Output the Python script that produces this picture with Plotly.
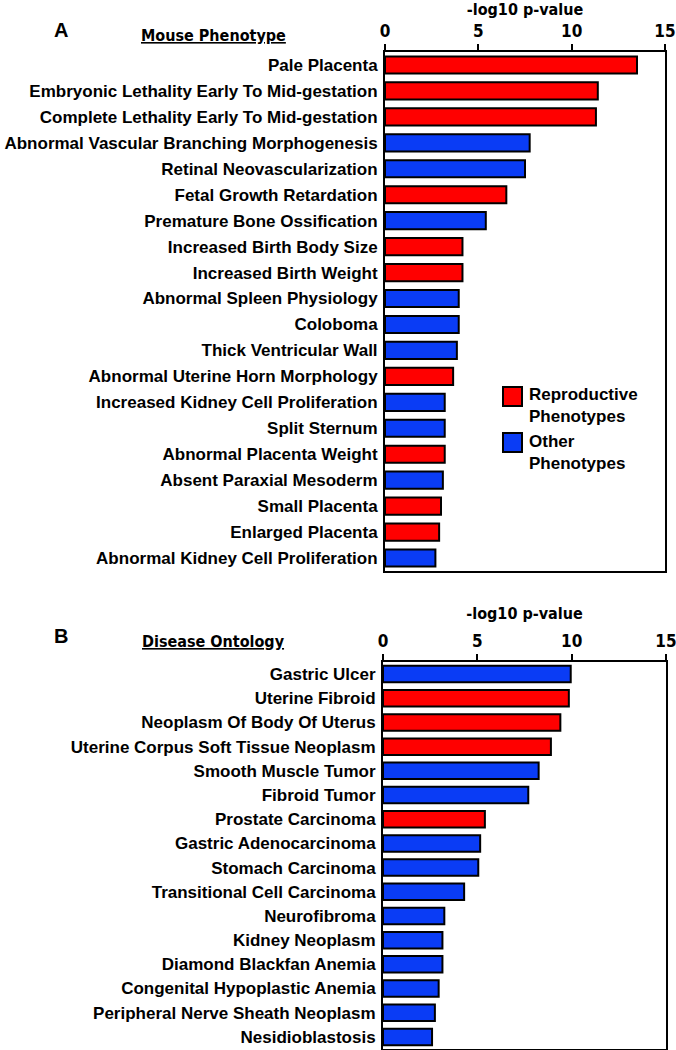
import plotly.graph_objects as go

# ---------------- data ----------------
mouse_terms = [
    "Pale Placenta",
    "Embryonic Lethality Early To Mid-gestation",
    "Complete Lethality Early To Mid-gestation",
    "Abnormal Vascular Branching Morphogenesis",
    "Retinal Neovascularization",
    "Fetal Growth Retardation",
    "Premature Bone Ossification",
    "Increased Birth Body Size",
    "Increased Birth Weight",
    "Abnormal Spleen Physiology",
    "Coloboma",
    "Thick Ventricular Wall",
    "Abnormal Uterine Horn Morphology",
    "Increased Kidney Cell Proliferation",
    "Split Sternum",
    "Abnormal Placenta Weight",
    "Absent Paraxial Mesoderm",
    "Small Placenta",
    "Enlarged Placenta",
    "Abnormal Kidney Cell Proliferation",
]
mouse_values = [13.5, 11.4, 11.3, 7.75, 7.5, 6.5, 5.4, 4.15, 4.15, 3.95,
                3.95, 3.85, 3.65, 3.2, 3.2, 3.2, 3.1, 3.0, 2.9, 2.7]
mouse_groups = ["R", "R", "R", "O", "O", "R", "O", "R", "R", "O",
                "O", "O", "R", "O", "O", "R", "O", "R", "R", "O"]

disease_terms = [
    "Gastric Ulcer",
    "Uterine Fibroid",
    "Neoplasm Of Body Of Uterus",
    "Uterine Corpus Soft Tissue Neoplasm",
    "Smooth Muscle Tumor",
    "Fibroid Tumor",
    "Prostate Carcinoma",
    "Gastric Adenocarcinoma",
    "Stomach Carcinoma",
    "Transitional Cell Carcinoma",
    "Neurofibroma",
    "Kidney Neoplasm",
    "Diamond Blackfan Anemia",
    "Congenital Hypoplastic Anemia",
    "Peripheral Nerve Sheath Neoplasm",
    "Nesidioblastosis",
]
disease_values = [9.95, 9.85, 9.4, 8.9, 8.25, 7.7, 5.4, 5.15, 5.05, 4.3,
                  3.25, 3.15, 3.15, 2.95, 2.75, 2.6]
disease_groups = ["O", "R", "R", "R", "O", "O", "R", "O", "O", "O",
                  "O", "O", "O", "O", "O", "O"]

x_ticks = [0, 5, 10, 15]
legend_labels = {"R": "Reproductive<br>Phenotypes", "O": "Other<br>Phenotypes"}

# ---------------- style ----------------
RED = "#FF0000"
BLUE = "#0A3CF5"
colors = {"R": RED, "O": BLUE}
W, H = 676, 1050
ARIAL = "Liberation Sans, Arial, sans-serif"
NARROW = "DejaVu Sans Condensed, Arial Narrow, sans-serif"


def px_x(p):
    return p / W


def px_y(p):
    return 1 - p / H


fig = go.Figure()
fig.add_trace(go.Bar(
    x=mouse_values, y=mouse_terms, orientation="h",
    marker=dict(color=[colors[g] for g in mouse_groups],
                line=dict(color="black", width=2)),
    width=0.66, xaxis="x", yaxis="y", showlegend=False,
))
fig.add_trace(go.Bar(
    x=disease_values, y=disease_terms, orientation="h",
    marker=dict(color=[colors[g] for g in disease_groups],
                line=dict(color="black", width=2)),
    width=0.68, xaxis="x2", yaxis="y2", showlegend=False,
))

xcommon = dict(
    range=[0, 15], tickvals=x_ticks, side="top", ticks="outside",
    ticklen=6, tickwidth=2, tickcolor="black", showline=True,
    linewidth=2, linecolor="black", mirror=True, showgrid=False,
    zeroline=False, fixedrange=True, automargin=False,
    ticklabeloverflow="allow",
    tickfont=dict(family=NARROW, size=17, color="black", weight="bold"),
    title=dict(text="-log10 p-value", standoff=8,
               font=dict(family=NARROW, size=16, color="black", weight="bold")),
)
ycommon = dict(
    autorange="reversed", showline=True, linewidth=2, linecolor="black",
    mirror=True, ticks="", showgrid=False, zeroline=False,
    ticklabelstandoff=2, automargin=False, ticklabeloverflow="allow",
    tickfont=dict(family=ARIAL, size=17, color="black", weight="bold"),
)

fig.update_layout(
    width=W, height=H,
    margin=dict(l=0, r=0, t=0, b=0),
    paper_bgcolor="white", plot_bgcolor="white",
    bargap=0.34,
    xaxis=dict(domain=[px_x(385), px_x(665)], anchor="y", **xcommon),
    yaxis=dict(domain=[px_y(571), px_y(52)], anchor="x", **ycommon),
    xaxis2=dict(domain=[px_x(383), px_x(666)], anchor="y2", **xcommon),
    yaxis2=dict(domain=[px_y(1049), px_y(662)], anchor="x2", **ycommon),
)

# panel letters and headings
ann = []
for letter, head, yl, yh in [("A", "Mouse Phenotype", 30, 36),
                             ("B", "Disease Ontology", 636, 641)]:
    ann.append(dict(text=letter, x=px_x(61), y=px_y(yl), xref="paper", yref="paper",
                    xanchor="center", yanchor="middle", showarrow=False,
                    font=dict(family=ARIAL, size=20, color="black", weight="bold")))
    ann.append(dict(text=head, x=px_x(213), y=px_y(yh), xref="paper", yref="paper",
                    xanchor="center", yanchor="middle", showarrow=False,
                    font=dict(family=NARROW, size=16, color="black", weight="bold",
                              lineposition="under")))

# legend (drawn manually)
shapes = []
for key, top, mid in [("R", 387, 405.5), ("O", 433, 452.5)]:
    shapes.append(dict(type="rect", xref="paper", yref="paper",
                       x0=px_x(503), x1=px_x(522), y0=px_y(top + 19), y1=px_y(top),
                       fillcolor=colors[key], line=dict(color="black", width=2)))
    ann.append(dict(text=legend_labels[key], x=px_x(527), y=px_y(mid),
                    xref="paper", yref="paper", xanchor="left", yanchor="middle",
                    align="left", showarrow=False,
                    font=dict(family=ARIAL, size=17, color="black", weight="bold")))

fig.update_layout(annotations=ann, shapes=shapes)
fig.write_html("out.html",
               config={"displayModeBar": False},
               post_script="document.body.style.margin='0';"
                           "document.body.style.overflow='hidden';")
